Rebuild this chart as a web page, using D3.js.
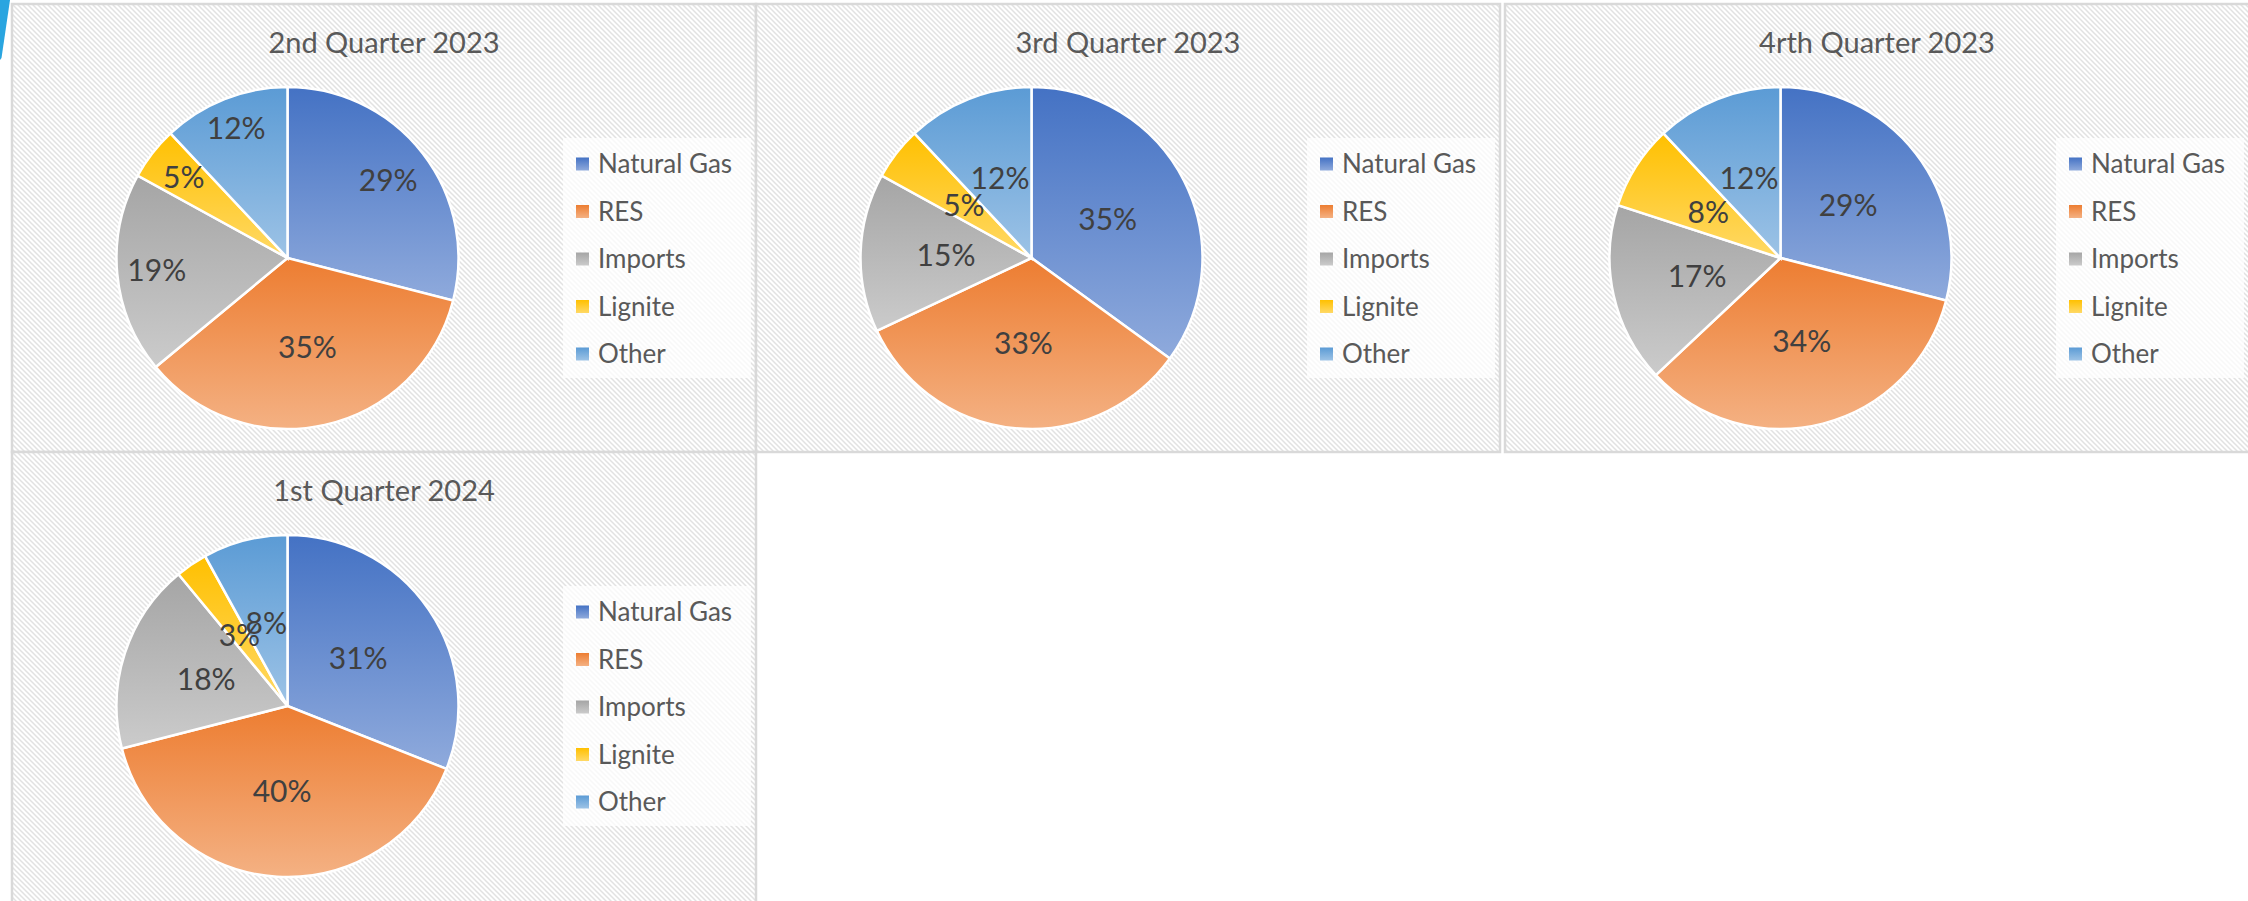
<!DOCTYPE html>
<html>
<head>
<meta charset="utf-8">
<script src="https://cdn.jsdelivr.net/npm/d3@7"></script>
<style>
  body { margin: 0; background: #fff; }
  svg { display: block; }
  text { font-family: Lato, "Open Sans", sans-serif; }
</style>
</head>
<body>
<svg width="2248" height="901"></svg>
<script>
(function (d3) {
    'use strict';

    // data
    const categories = ['Natural Gas', 'RES', 'Imports', 'Lignite', 'Other'];
    const titles = ['2nd Quarter 2023', '3rd Quarter 2023', '4rth Quarter 2023', '1st Quarter 2024'];
    const q2_2023 = [29, 35, 19, 5, 12];
    const q3_2023 = [35, 33, 15, 5, 12];
    const q4_2023 = [29, 34, 17, 8, 12];
    const q1_2024 = [31, 40, 18, 3, 8];
    const seriesValues = [q2_2023, q3_2023, q4_2023, q1_2024];

    // colours (top of gradient, bottom of gradient)
    const baseColors = ['#4472C4', '#ED7D31', '#A5A5A5', '#FFC000', '#5B9BD5'];
    const lightColors = ['#8FAADC', '#F4B183', '#CBCBCB', '#FFD966', '#9DC3E6'];

    // layout
    const panelX = [12, 756, 1505, 12];
    const panelY = [4, 4, 4, 452];
    const panelW = 744;
    const panelH = 448;
    const radius = 171;
    const labelRadius = [[0.745, 0.534, 0.768, 0.768, 0.815], 0.5, 0.5, 0.5];

    const svg = d3.select('svg');
    const defs = svg.append('defs');

    // diagonal hatch used by Excel's pattern fill
    const pattern = defs.append('pattern')
        .attr('id', 'hatch')
        .attr('patternUnits', 'userSpaceOnUse')
        .attr('width', 5)
        .attr('height', 5);
    pattern.append('rect').attr('width', 5).attr('height', 5).attr('fill', '#ffffff');
    pattern.append('path')
        .attr('d', 'M-1,-1 L6,6 M-1,4 L1,6 M4,-1 L6,1')
        .attr('stroke', '#e2e2e2')
        .attr('stroke-width', 1.5);

    categories.forEach((c, i) => {
        const grad = defs.append('linearGradient')
            .attr('id', 'grad' + i)
            .attr('x1', 0).attr('y1', 0)
            .attr('x2', 0).attr('y2', 1);
        grad.append('stop').attr('offset', '0%').attr('stop-color', baseColors[i]);
        grad.append('stop').attr('offset', '100%').attr('stop-color', lightColors[i]);
    });

    // blue slide decoration at the far left
    svg.append('path')
        .attr('d', 'M0,0 L10,0 L1.5,58 L0,60 Z')
        .attr('fill', '#2AA5E0');

    const pie = d3.pie().sort(null).value(d => d);
    const arc = d3.arc().innerRadius(0).outerRadius(radius);

    seriesValues.forEach((values, p) => {
        const g = svg.append('g')
            .attr('transform', `translate(${panelX[p]}, ${panelY[p]})`);

        const w = p === 2 ? panelW + 4 : panelW;
        const h = p === 3 ? panelH + 6 : panelH;

        g.append('rect')
            .attr('width', w)
            .attr('height', h)
            .attr('fill', 'url(#hatch)')
            .attr('stroke', '#d9d9d9')
            .attr('stroke-width', 2.5);

        g.append('text')
            .attr('x', panelW / 2)
            .attr('y', 49)
            .attr('text-anchor', 'middle')
            .attr('font-size', 29)
            .attr('fill', '#595959')
            .text(titles[p]);

        const pieG = g.append('g')
            .attr('transform', `translate(275.5, 254)`);

        const arcs = pie(values);

        pieG.selectAll('path')
            .data(arcs)
            .enter().append('path')
            .attr('d', arc)
            .attr('fill', (d, i) => `url(#grad${i})`)
            .attr('stroke', '#ffffff')
            .attr('stroke-width', 2.5);

        const lr = labelRadius[p];
        pieG.selectAll('text')
            .data(arcs)
            .enter().append('text')
            .attr('transform', (d, i) => {
                const f = Array.isArray(lr) ? lr[i] : lr;
                const c = d3.arc().innerRadius(radius * f).outerRadius(radius * f).centroid(d);
                return `translate(${c[0]}, ${c[1]})`;
            })
            .attr('text-anchor', 'middle')
            .attr('dy', '0.36em')
            .attr('font-size', 30)
            .attr('fill', '#404040')
            .text(d => d.value + '%');

        // legend
        const legend = g.append('g')
            .attr('transform', 'translate(551, 134)');

        legend.append('rect')
            .attr('width', 188)
            .attr('height', 240)
            .attr('fill', '#ffffff')
            .attr('fill-opacity', 0.75);

        const items = legend.selectAll('g.item')
            .data(categories)
            .enter().append('g')
            .attr('class', 'item')
            .attr('transform', (d, i) => `translate(0, ${26 + i * 47.5})`);

        items.append('rect')
            .attr('x', 13)
            .attr('y', -6.5)
            .attr('width', 13)
            .attr('height', 13)
            .attr('fill', (d, i) => `url(#grad${i})`);

        items.append('text')
            .attr('x', 35)
            .attr('dy', '0.36em')
            .attr('font-size', 26)
            .attr('fill', '#595959')
            .text(d => d);
    });

}(d3));
</script>
</body>
</html>
